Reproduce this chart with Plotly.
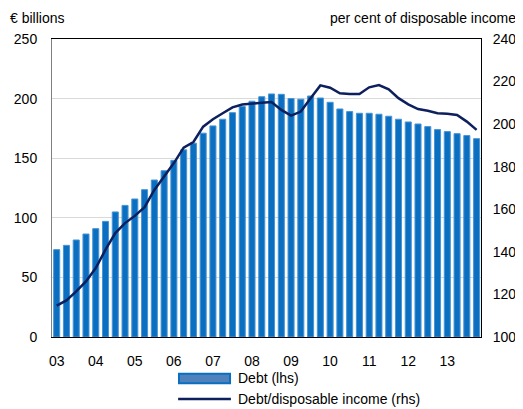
import plotly.graph_objects as go

# quarterly, 2003 Q1 - 2013 Q4
years = ['03', '04', '05', '06', '07', '08', '09', '10', '11', '12', '13']
debt = [73.3, 76.9, 81.4, 86.4, 90.9, 97.0, 104.9, 110.4, 115.8, 123.6,
        131.7, 139.5, 148.2, 157.0, 162.6, 171.0, 177.1, 182.7, 188.2, 193.3,
        197.8, 201.6, 203.9, 203.6, 200.0, 199.5, 202.2, 200.5, 196.9, 191.3,
        189.1, 187.7, 187.7, 186.9, 185.2, 182.7, 180.4, 178.7, 176.5, 174.0,
        172.3, 170.6, 169.0, 166.4]
ratio = [114.7, 117.2, 121.4, 126.1, 132.4, 141.0, 148.8, 153.5, 156.9, 161.0,
         169.1, 175.4, 181.7, 189.0, 191.6, 198.8, 202.3, 205.1, 207.9, 209.2,
         209.8, 210.1, 210.4, 206.7, 204.0, 205.9, 212.2, 218.2, 217.1, 214.5,
         214.2, 214.2, 217.3, 218.4, 216.4, 212.2, 209.3, 207.1, 206.3, 205.1,
         204.9, 204.3, 201.2, 197.3]
bar_name = 'Debt (lhs)'
line_name = 'Debt/disposable income (rhs)'

x = list(range(len(debt)))
font = "Liberation Sans, Arial, sans-serif"
bar_col = '#0b6fc1'
line_col = '#0d1f5c'

fig = go.Figure()
fig.add_trace(go.Bar(
    x=x, y=debt, name=bar_name,
    marker=dict(color=bar_col, line=dict(color='#4a95d4', width=1))))
fig.add_trace(go.Scatter(
    x=x, y=ratio, name=line_name, yaxis='y2',
    mode='lines', line=dict(color=line_col, width=2.5)))

# legend drawn by hand below the plot (paper coords)
legend_shapes = [
    dict(type='rect', xref='paper', yref='paper', x0=0.296, x1=0.415,
         y0=-0.155, y1=-0.123, fillcolor='#4f81bd',
         line=dict(color=bar_col, width=2)),
    dict(type='line', xref='paper', yref='paper', x0=0.294, x1=0.417,
         y0=-0.208, y1=-0.208, line=dict(color=line_col, width=2.5)),
]
legend_text = [
    dict(text=bar_name, xref='paper', yref='paper', x=0.428, y=-0.139,
         xanchor='left', yanchor='middle', showarrow=False),
    dict(text=line_name, xref='paper', yref='paper', x=0.428, y=-0.208,
         xanchor='left', yanchor='middle', showarrow=False),
]

# the page body adds an 8px offset, so the figure is 8px smaller
fig.update_layout(
    width=515, height=401,
    margin=dict(l=44, r=42, t=31, b=72),
    paper_bgcolor='white', plot_bgcolor='white',
    font=dict(family=font, size=14, color='black'),
    bargap=0.38,
    showlegend=False,
    xaxis=dict(range=[-0.48, 43.45], tickvals=[i * 4 for i in range(len(years))],
               ticktext=years, showgrid=False, zeroline=False,
               showline=True, linecolor='black', linewidth=1, mirror=True,
               ticks='', ticklabelstandoff=11, automargin=False),
    yaxis=dict(range=[0, 250], dtick=50, showgrid=True, gridcolor='#d9d9d9',
               zeroline=False, showline=True, linecolor='#808080', linewidth=1,
               ticks='', ticklabelstandoff=11, automargin=False),
    yaxis2=dict(range=[100, 240], dtick=20, overlaying='y', side='right',
                showgrid=False, zeroline=False, showline=True,
                linecolor='black', linewidth=1, ticks='',
                ticklabelstandoff=8, automargin=False),
    shapes=legend_shapes,
    annotations=[
        dict(text='€ billions', xref='paper', yref='paper', x=-0.102, y=1.072,
             xanchor='left', yanchor='middle', showarrow=False),
        dict(text='per cent of disposable income', xref='paper', yref='paper',
             x=1.086, y=1.072, xanchor='right', yanchor='middle',
             showarrow=False),
    ] + legend_text,
)

fig.write_html("out.html")
